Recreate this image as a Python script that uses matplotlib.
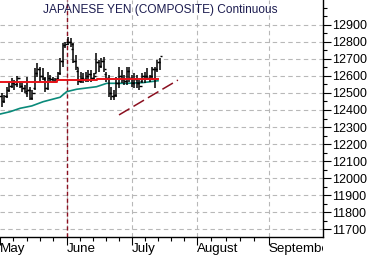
import matplotlib
matplotlib.use("Agg")
import matplotlib.pyplot as plt
from matplotlib.ticker import FixedLocator, MultipleLocator
from matplotlib.transforms import Bbox, TransformedBbox
import numpy as np

plt.rcParams['font.family'] = ['Liberation Sans', 'DejaVu Sans']

# ---- data (bar index, prices) ----
highs = [12498, 12488, 12537, 12567, 12586, 12576, 12600, 12567, 12557, 12547,
         12596, 12537, 12518, 12645, 12675, 12655, 12645, 12596, 12625, 12606,
         12596, 12586, 12625, 12704, 12792, 12802, 12831, 12822, 12792, 12724,
         12645, 12625, 12616, 12625, 12635, 12635, 12616, 12733, 12694, 12704,
         12714, 12625, 12606, 12537, 12518, 12596, 12655, 12635, 12606, 12655,
         12655, 12606, 12616, 12606, 12576, 12616, 12625, 12645, 12606, 12655,
         12655, 12694, 12704]
lows = [12420, 12439, 12469, 12508, 12527, 12518, 12537, 12527, 12508, 12498,
        12478, 12459, 12459, 12518, 12596, 12567, 12576, 12508, 12518, 12567,
        12557, 12557, 12576, 12606, 12655, 12763, 12782, 12773, 12675, 12637,
        12547, 12557, 12557, 12567, 12567, 12567, 12576, 12616, 12625, 12645,
        12625, 12567, 12478, 12459, 12459, 12478, 12527, 12557, 12547, 12547,
        12567, 12537, 12527, 12527, 12518, 12557, 12557, 12576, 12567, 12576,
        12527, 12625, 12635]
opens = [12480, 12450, 12480, 12520, 12540, 12560, 12550, 12590, 12540, 12530,
         12500, 12520, 12470, 12530, 12620, 12640, 12600, 12580, 12530, 12590,
         12580, 12570, 12590, 12620, 12690, 12780, 12800, 12800, 12760, 12690,
         12630, 12570, 12590, 12580, 12600, 12610, 12590, 12620, 12680, 12660,
         12690, 12610, 12590, 12500, 12480, 12490, 12560, 12600, 12580, 12570,
         12630, 12590, 12560, 12580, 12560, 12570, 12600, 12600, 12590, 12600,
         12640, 12640, 12680]
closes = [12450, 12480, 12520, 12540, 12560, 12550, 12590, 12540, 12530, 12510,
          12520, 12470, 12500, 12620, 12640, 12600, 12590, 12530, 12590, 12580,
          12570, 12580, 12620, 12690, 12780, 12790, 12800, 12790, 12690, 12650,
          12570, 12590, 12580, 12600, 12610, 12590, 12600, 12680, 12660, 12690,
          12640, 12590, 12500, 12480, 12490, 12560, 12600, 12580, 12570, 12630,
          12590, 12560, 12580, 12560, 12540, 12600, 12600, 12590, 12600, 12640,
          12640, 12680, 12720]

red_x = [-0.7, 21.7, 21.7, 37.2, 37.2, 61.3]
red_y = [12567, 12567, 12576, 12576, 12580, 12580]

teal_x = [-0.7, 3.3, 7.2, 11.8, 16.3, 22.9, 25.5, 29.4, 37.2, 41.2, 49.0, 55.4, 61.3]
teal_y = [12376, 12390, 12410, 12424, 12449, 12475, 12508, 12522, 12537, 12557, 12557, 12561, 12572]

trend_x = [46.0, 69.1]
trend_y = [12371, 12576]

month_labels = ["May", "June", "July", "August", "September"]
month_pos = [-0.6, 25.5, 51.0, 76.5, 104.7]
june_marker = 25.5

yticks = list(range(11700, 13000, 100))

# ---- figure ----
fig = plt.figure(figsize=(3.71, 2.56), dpi=100)
ax_right = 323 / 371
ax = fig.add_axes([0.0, 19/256, ax_right, 237/256])
ax.set_xlim(-0.67, 126.0)
ax.set_ylim(11653, 13047)

# grid
grid_kw = dict(color="#b8b8b8", lw=0.8, ls=(0, (4, 3)), zorder=0)
for y in yticks:
    ax.axhline(y, **grid_kw)
for xm in month_pos[1:]:
    ax.axvline(xm, **grid_kw)

# OHLC bars
xs = np.arange(len(highs))
ax.vlines(xs, lows, highs, color="black", lw=1.1, zorder=3)
ax.hlines(opens, xs - 0.9, xs, color="black", lw=1.0, zorder=3)
ax.hlines(closes, xs, xs + 0.9, color="black", lw=1.0, zorder=3)

ax.plot(teal_x, teal_y, color="#0a8a7a", lw=1.2, zorder=2)
ax.plot(red_x, red_y, color="#e8141a", lw=1.4, zorder=4)
ax.plot(trend_x, trend_y, color="#8b1020", lw=1.1, ls=(0, (8, 3)), zorder=2)
ax.axvline(june_marker, color="#8b1020", lw=1.0, ls=(0, (3, 2)), zorder=1)

# spines
for s in ["left", "top"]:
    ax.spines[s].set_visible(False)
ax.spines["right"].set_linewidth(1.0)
ax.spines["bottom"].set_linewidth(1.0)

ax.yaxis.tick_right()
ax.yaxis.set_major_locator(FixedLocator(yticks))
ax.yaxis.set_minor_locator(MultipleLocator(50))
ax.set_yticklabels([str(v) for v in yticks], fontsize=9)
ax.tick_params(axis="y", which="major", length=5.5, width=0.8, pad=1.2, direction="out")
ax.tick_params(axis="y", which="minor", length=3, width=0.8, direction="out")

ax.xaxis.set_major_locator(FixedLocator(month_pos))
minor_x = []
for a, b in zip(month_pos[:-1], month_pos[1:]):
    step = (b - a) / 5
    minor_x += [a + step * k for k in range(1, 5)]
ax.xaxis.set_minor_locator(FixedLocator(minor_x))
ax.set_xticklabels(month_labels, fontsize=9.6, ha="left")
ax.tick_params(axis="x", which="major", length=6, width=0.8, pad=-1.5, direction="out")
ax.tick_params(axis="x", which="minor", length=3, width=0.8, direction="out")

clip = TransformedBbox(Bbox([[0, 0], [ax_right, 1]]), fig.transFigure)
for lbl in ax.get_xticklabels():
    lbl.set_clip_on(True)
    lbl.set_clip_box(clip)

fig.text(43/371, 1 - 10/256, "JAPANESE YEN (COMPOSITE) Continuous",
         fontsize=8.6, color="#1c1c50", ha="left", va="center")

fig.savefig("out.png", dpi=100)
